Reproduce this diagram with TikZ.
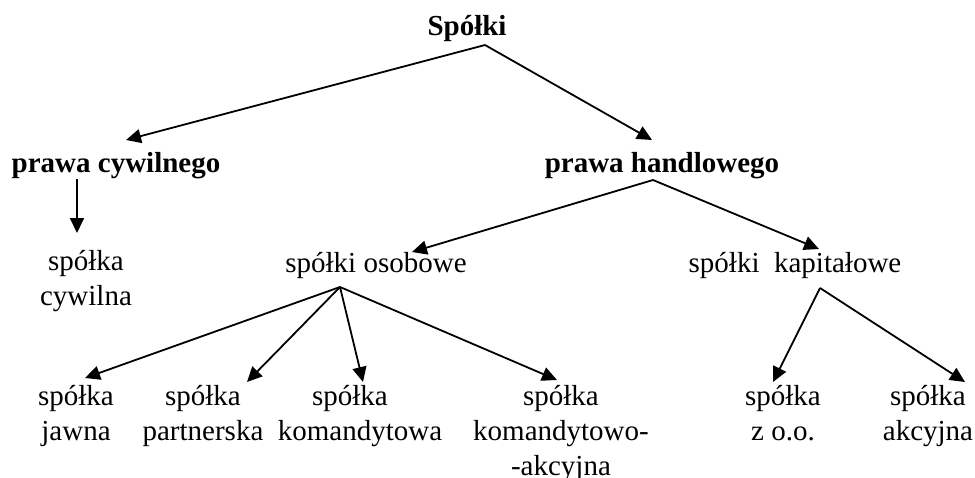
\documentclass[tikz,border=0pt]{standalone}
\usepackage{fontspec}
\setmainfont{Liberation Serif}
\usetikzlibrary{arrows.meta}

\begin{document}
\begin{tikzpicture}[x=0.5pt, y=-0.5pt, every node/.style = {font=\fontsize{14.5pt}{17.5pt}\selectfont, align=center, inner sep=0pt, anchor=base}, head/.style = {font=\fontsize{14.5pt}{17.5pt}\selectfont\bfseries}, arr/.style = {-{Triangle[length=7.5pt, width=7pt]}, line width=0.9pt}]
\useasboundingbox (0,0) rectangle (975,477);
% kinds of companies (multi-line nodes sit on their last baseline)
\node[head] (spolki) at (467,35) {Spółki};
\node[head] (cywilne) at (116,172) {prawa cywilnego};
\node[head] (handlowe) at (662,172) {prawa handlowego};
\node (cywilna) at (86,305) {spółka\\cywilna};
\node (osobowe) at (376,272) {spółki osobowe};
\node (kapitalowe) at (795,272) {spółki\ \ kapitałowe};
\node (jawna) at (76,440) {spółka\\jawna};
\node (partnerska) at (203,440) {spółka\\partnerska};
\node (komandytowa) at (360,440) {spółka\hspace*{10pt}\\komandytowa};
\node (komakcyjna) at (561,475) {spółka\\komandytowo-\\-akcyjna};
\node (zoo) at (783,440) {spółka\\z o.o.};
\node (akcyjna) at (928,440) {spółka\\akcyjna};
% arrows
\draw[arr] ([shift={(18,10)}]spolki.base) -- ([shift={(10,-32)}]cywilne.base);
\draw[arr] ([shift={(18,10)}]spolki.base) -- ([shift={(-10,-32)}]handlowe.base);
\draw[arr] ([shift={(-39,7)}]cywilne.base) -- ([shift={(-9,-72)}]cywilna.base);
\draw[arr] ([shift={(-9,8)}]handlowe.base) -- ([shift={(36,-20)}]osobowe.base);
\draw[arr] ([shift={(-9,8)}]handlowe.base) -- ([shift={(24,-23)}]kapitalowe.base);
\draw[arr] ([shift={(-36,15)}]osobowe.base) -- ([shift={(9,-62)}]jawna.base);
\draw[arr] ([shift={(-36,15)}]osobowe.base) -- ([shift={(44,-58)}]partnerska.base);
\draw[arr] ([shift={(-36,15)}]osobowe.base) -- ([shift={(3,-58)}]komandytowa.base);
\draw[arr] ([shift={(-36,15)}]osobowe.base) -- ([shift={(-4,-95)}]komakcyjna.base);
\draw[arr] ([shift={(25,16)}]kapitalowe.base) -- ([shift={(-10,-58)}]zoo.base);
\draw[arr] ([shift={(25,16)}]kapitalowe.base) -- ([shift={(37,-58)}]akcyjna.base);
\end{tikzpicture}
\end{document}
